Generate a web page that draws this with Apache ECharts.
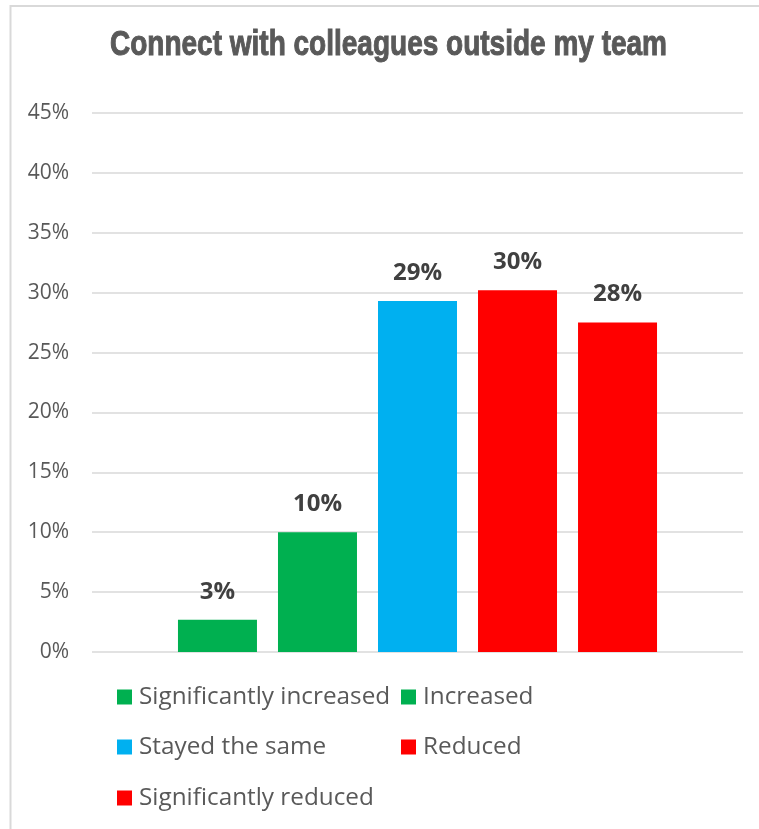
<!DOCTYPE html>
<html>
<head>
<meta charset="utf-8">
<title>Connect with colleagues outside my team</title>
<script src="https://cdn.jsdelivr.net/npm/echarts@6/dist/echarts.min.js"></script>
<style>
  html, body { margin: 0; padding: 0; background: #ffffff; }
  #chart { width: 759px; height: 829px; }
</style>
</head>
<body>
<div id="chart"></div>
<script>
// Survey question shown as the chart title
const question = 'Connect with colleagues outside my team';

// One category, one bar per response option
const categories = [''];
const responses = [
  'Significantly increased',
  'Increased',
  'Stayed the same',
  'Reduced',
  'Significantly reduced'
];
// Share of respondents (%)
const shares = [2.7, 10.0, 29.3, 30.2, 27.5];

// Value axis range (%)
const axisMin = 0;
const axisMax = 45;
const axisStep = 5;

// Palette, one colour per response
const palette = ['#00B050', '#00B050', '#00B0F0', '#FF0000', '#FF0000'];

// Legend placement: two columns, three rows
const legendSlots = [
  { left: 117, top: 685 },
  { left: 401, top: 685 },
  { left: 117, top: 735 },
  { left: 401, top: 735 },
  { left: 117, top: 786 }
];

const textFont = '"Open Sans", "Noto Sans", "DejaVu Sans", sans-serif';

const chart = echarts.init(document.getElementById('chart'), null, { renderer: 'canvas' });

const series = responses.map((name, i) => ({
  name: name,
  type: 'bar',
  data: [shares[i]],
  barWidth: 79,
  barGap: '26.6%',
  itemStyle: { color: palette[i] },
  label: {
    show: true,
    position: 'top',
    distance: 16,
    formatter: (p) => Math.round(p.value) + '%',
    color: '#404040',
    fontFamily: textFont,
    fontWeight: 'bold',
    fontSize: 24
  }
}));

const legends = responses.map((name, i) => ({
  data: [name],
  left: legendSlots[i].left,
  top: legendSlots[i].top,
  padding: 0,
  itemWidth: 15,
  itemHeight: 15,
  itemGap: 0,
  icon: 'rect',
  selectedMode: false,
  textStyle: {
    color: '#595959',
    fontFamily: textFont,
    fontSize: 24.3,
    padding: [0, 0, 0, 2]
  }
}));

chart.setOption({
  animation: false,
  backgroundColor: '#ffffff',
  legend: legends,
  grid: {
    left: 92,
    right: 16,
    top: 113,
    bottom: 177,
    containLabel: false
  },
  xAxis: {
    type: 'category',
    data: categories,
    axisLine: { show: false },
    axisTick: { show: false },
    axisLabel: { show: false }
  },
  yAxis: {
    type: 'value',
    min: axisMin,
    max: axisMax,
    interval: axisStep,
    axisLine: { show: false },
    axisTick: { show: false },
    axisLabel: {
      formatter: '{value}%',
      color: '#595959',
      fontFamily: textFont,
      fontSize: 21,
      margin: 23
    },
    splitLine: { lineStyle: { color: '#D9D9D9', width: 1.5 } }
  },
  graphic: [
    {
      // frame on the top and left edges
      type: 'polyline',
      silent: true,
      shape: { points: [[10.5, 829], [10.5, 6], [759, 6]] },
      style: { stroke: '#D9D9D9', lineWidth: 2, fill: null }
    },
    {
      // condensed heavy heading: bold face narrowed horizontally and thickened
      type: 'text',
      silent: true,
      x: 388.5,
      y: 45,
      scaleX: 0.8,
      style: {
        text: question,
        align: 'center',
        verticalAlign: 'middle',
        fill: '#595959',
        stroke: '#595959',
        lineWidth: 1,
        fontFamily: '"Liberation Sans", Arial, sans-serif',
        fontWeight: 'bold',
        fontSize: 35
      }
    }
  ],
  series: series
});
</script>
</body>
</html>
